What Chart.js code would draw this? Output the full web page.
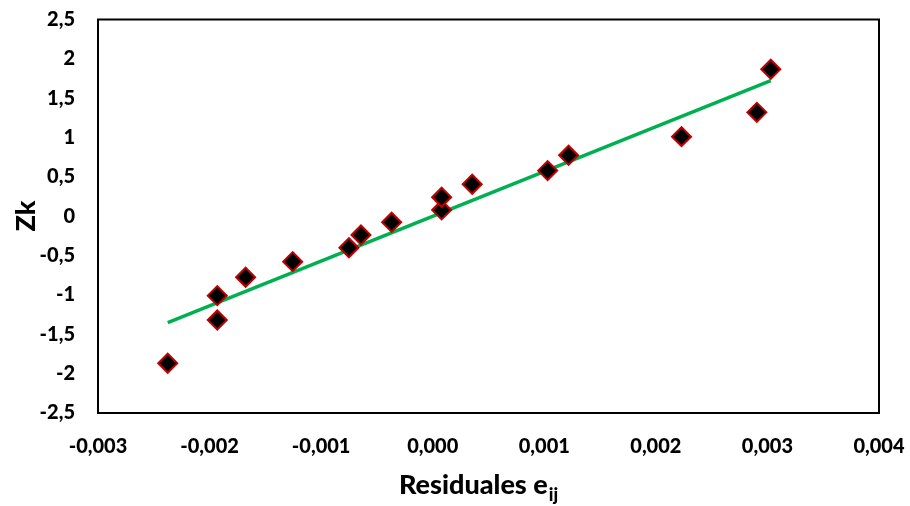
<!DOCTYPE html>
<html>
<head>
<meta charset="utf-8">
<script src="https://cdn.jsdelivr.net/npm/chart.js@4/dist/chart.umd.min.js"></script>
<style>
  html,body{margin:0;padding:0;background:#fff;}
  #wrap{width:910px;height:506px;position:relative;}
</style>
</head>
<body>
<div id="wrap"><canvas id="myChart"></canvas></div>
<script>
// residuals e_ij vs normal scores Zk
const residuals=[-0.002375,-0.001931,-0.001931,-0.001677,-0.001255,-0.000751,-0.000643,-0.000368,
                 0.00008,0.00008,0.000354,0.00103,0.001218,0.00223,0.002905,0.00303];
const zk=[-1.868,-1.318,-1.009,-0.775,-0.577,-0.40,-0.238,-0.076,
          0.08,0.241,0.407,0.58,0.775,1.011,1.32,1.868];
// trend line end points
const trendX=[-0.002375,0.00303];
const trendY=[-1.352,1.723];

const FONT='Lato, "Open Sans", sans-serif';

function fmt(v,dec){
    return v.toFixed(dec).replace('.',',').replace(/^-(0,0+)$/,'$1');
}

function noPad(s){
    s.paddingLeft=0;s.paddingRight=0;s.paddingTop=0;s.paddingBottom=0;
}

const boxAndTitles={
    id:'boxAndTitles',
    afterDraw(chart){
        const ctx=chart.ctx, a=chart.chartArea;
        ctx.save();
        ctx.strokeStyle='#000';
        ctx.lineWidth=2;
        ctx.strokeRect(a.left,a.top,a.right-a.left,a.bottom-a.top);

        // x title with subscript
        ctx.fillStyle='#000';
        ctx.textBaseline='alphabetic';
        ctx.font='900 18px '+FONT;
        const subW=ctx.measureText('ij').width;
        ctx.font='900 27px '+FONT;
        const main='Residuales e';
        const mainW=ctx.measureText(main).width;
        const x0=478-(mainW+subW)/2;
        ctx.textAlign='left';
        ctx.fillText(main,x0,494);
        ctx.font='900 18px '+FONT;
        ctx.fillText('ij',x0+mainW+1,501);

        // y title
        ctx.font='900 27px '+FONT;
        ctx.translate(35,216);
        ctx.rotate(-Math.PI/2);
        ctx.textAlign='center';
        ctx.fillText('Zk',0,0);
        ctx.restore();
    }
};

window.addEventListener('load',()=>{
    const ctx=document.getElementById('myChart').getContext('2d');
    new Chart(ctx,{
        type:'scatter',
        data:{
            datasets:[{
                label:'trend',
                type:'line',
                data:trendX.map((x,i)=>({x:x,y:trendY[i]})),
                borderColor:'#00B050',
                borderWidth:3.5,
                pointRadius:0,
                fill:false,
                order:2
            },{
                label:'Zk',
                data:residuals.map((x,i)=>({x:x,y:zk[i]})),
                pointStyle:'rectRot',
                pointRadius:9.5,
                pointHoverRadius:9.5,
                backgroundColor:'#000',
                borderColor:'#C00000',
                borderWidth:2,
                order:1
            }]
        },
        options:{
            responsive:true,
            maintainAspectRatio:false,
            animation:false,
            layout:{padding:{left:0,right:31,top:19.5,bottom:0}},
            plugins:{legend:{display:false},tooltip:{enabled:false}},
            scales:{
                x:{
                    type:'linear',
                    min:-0.003,max:0.004,
                    grid:{display:false,drawTicks:false},
                    border:{display:false},
                    ticks:{
                        stepSize:0.001,
                        padding:22,
                        color:'#000',
                        font:{family:FONT,size:20,weight:'900'},
                        maxRotation:0,
                        callback:v=>fmt(v,3)
                    },
                    afterFit:s=>{s.height=93;noPad(s);}
                },
                y:{
                    min:-2.5,max:2.5,
                    grid:{display:false,drawTicks:false},
                    border:{display:false},
                    ticks:{
                        stepSize:0.5,
                        padding:23,
                        color:'#000',
                        font:{family:FONT,size:20,weight:'900'},
                        callback:v=>fmt(v,Number.isInteger(v)?0:1)
                    },
                    afterFit:s=>{s.width=98;noPad(s);}
                }
            }
        },
        plugins:[boxAndTitles]
    });
});
</script>
</body>
</html>
